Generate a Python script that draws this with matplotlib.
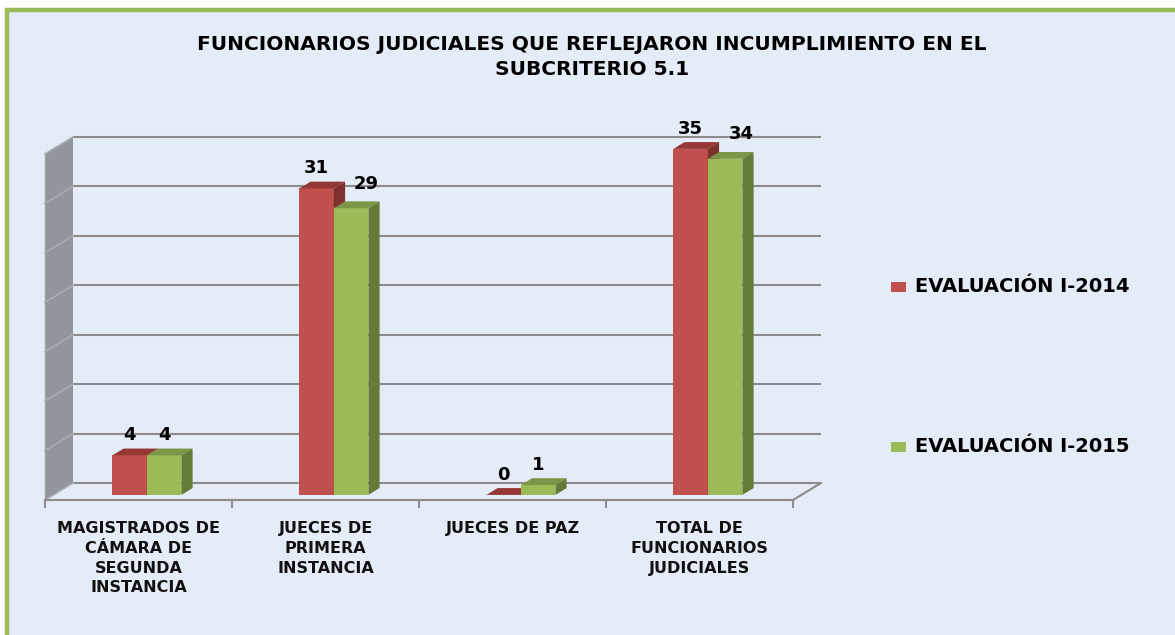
import matplotlib
matplotlib.use("Agg")
import matplotlib.pyplot as plt
from matplotlib.patches import Polygon, Rectangle

# data
categories = [
    "MAGISTRADOS DE\nCÁMARA DE\nSEGUNDA\nINSTANCIA",
    "JUECES DE\nPRIMERA\nINSTANCIA",
    "JUECES DE PAZ",
    "TOTAL DE\nFUNCIONARIOS\nJUDICIALES",
]
series_names = ["EVALUACIÓN I-2014", "EVALUACIÓN I-2015"]
values_2014 = [4, 31, 0, 35]
values_2015 = [4, 29, 1, 34]
y_ticks = [0, 5, 10, 15, 20, 25, 30, 35]
title = "FUNCIONARIOS JUDICIALES QUE REFLEJARON INCUMPLIMIENTO EN EL\nSUBCRITERIO 5.1"

W, H = 1175, 635
BG = "#E4ECF7"
GRID = "#8C8C8C"
front_cols = ["#C0504D", "#9BBB59"]
top_cols = ["#953735", "#7A9646"]
side_cols = ["#7E302D", "#657B38"]

# pixel scale of the plot floor (front-left corner at px 45, 500)
PX_X = 187.0   # px per category
PX_Y = 9.886   # px per unit of value
X0, Y0 = 45, 500


def P(xp, yp):
    # pixel position -> data coords (used for decorations only)
    return (xp - X0) / PX_X, (Y0 - yp) / PX_Y


fig = plt.figure(figsize=(W / 100, H / 100), dpi=100)
fig.patch.set_facecolor("white")
ax = fig.add_axes([0, 0, 1, 1])
ax.set_axis_off()
ax.set_xlim(-X0 / PX_X, (W - X0) / PX_X)
ax.set_ylim(-(H - Y0) / PX_Y, Y0 / PX_Y)

# chart area background with green border
bx0, by0 = P(7, 10)
bx1, by1 = P(W + 20, H + 20)
ax.add_patch(Rectangle((bx0, by1), bx1 - bx0, by0 - by1, facecolor=BG,
                       edgecolor="#9BBB59", lw=3.2, zorder=0))

# depth of the 3d box
DX, DY = 28 / PX_X, 17 / PX_Y
n = len(categories)
top = y_ticks[-1]

# left side wall
ax.add_patch(Polygon([(0, 0), (DX, DY), (DX, top + DY), (0, top)],
                     closed=True, facecolor="#91969D", edgecolor="none", zorder=1))
for v in y_ticks:
    ax.plot([DX, n + DX], [v + DY, v + DY], color=GRID, lw=1.5, zorder=2,
            solid_capstyle="butt")
    ax.plot([0, DX], [v, v + DY], color="#A9ADB3", lw=1.2, zorder=2)
ax.plot([0, 0], [0, top], color="#A0A4AA", lw=1, zorder=2)

# floor edges and category ticks
ax.plot([0, n], [0, 0], color=GRID, lw=1.5, zorder=2)
ax.plot([n, n + DX], [0, DY], color=GRID, lw=1.5, zorder=2)
for i in range(n + 1):
    ax.plot([i, i], [0, -7 / PX_Y], color=GRID, lw=1.5, zorder=2)

# bars
bw = 34.5 / PX_X
f0, f1 = 0.3, 0.7
ox, oy = DX * f0, DY * f0
ddx, ddy = DX * (f1 - f0), DY * (f1 - f0)
label_shift = [[(0, 0)] * n, [(0, 0), (15, 4), (0, 0), (16, 5)]]

for i in range(n):
    c = i + 0.5
    for s, vals in enumerate([values_2014, values_2015]):
        v = vals[i]
        left = c - bw + s * bw + ox
        ax.bar(left, v, bottom=oy, width=bw, align="edge",
               color=front_cols[s], lw=0, zorder=3)
        ax.add_patch(Polygon([(left, oy + v), (left + bw, oy + v),
                              (left + bw + ddx, oy + v + ddy), (left + ddx, oy + v + ddy)],
                             closed=True, facecolor=top_cols[s], edgecolor="none", zorder=3))
        ax.add_patch(Polygon([(left + bw, oy), (left + bw, oy + v),
                              (left + bw + ddx, oy + v + ddy), (left + bw + ddx, oy + ddy)],
                             closed=True, facecolor=side_cols[s], edgecolor="none", zorder=3))
        sx, sy = label_shift[s][i]
        ax.text(left + bw / 2 + sx / PX_X, oy + v + (20 + sy) / PX_Y, str(v),
                ha="center", va="center", fontsize=13, fontweight="bold",
                color="black", zorder=5)

# category labels
for i, lab in enumerate(categories):
    ax.text(i + 0.5, P(0, 521)[1], lab, ha="center", va="top", fontsize=11.5,
            fontweight="bold", linespacing=1.4, color="#111111", zorder=5)

# title
tx, ty = P(592, 57)
ax.text(tx, ty, title, ha="center", va="center", fontsize=14.5, fontweight="bold",
        linespacing=1.42, color="black", zorder=5)

# legend
for s, (name, ypx) in enumerate(zip(series_names, [287, 447])):
    lx0, ly0 = P(891, ypx + 5)
    lx1, ly1 = P(906, ypx - 5)
    ax.add_patch(Rectangle((lx0, ly0), lx1 - lx0, ly1 - ly0, facecolor=front_cols[s],
                           edgecolor="none", zorder=5))
    tx, ty = P(915, ypx)
    ax.text(tx, ty, name, ha="left", va="center", fontsize=14, fontweight="bold",
            color="black", zorder=5)

fig.savefig("out.png", dpi=100, facecolor=fig.get_facecolor())
